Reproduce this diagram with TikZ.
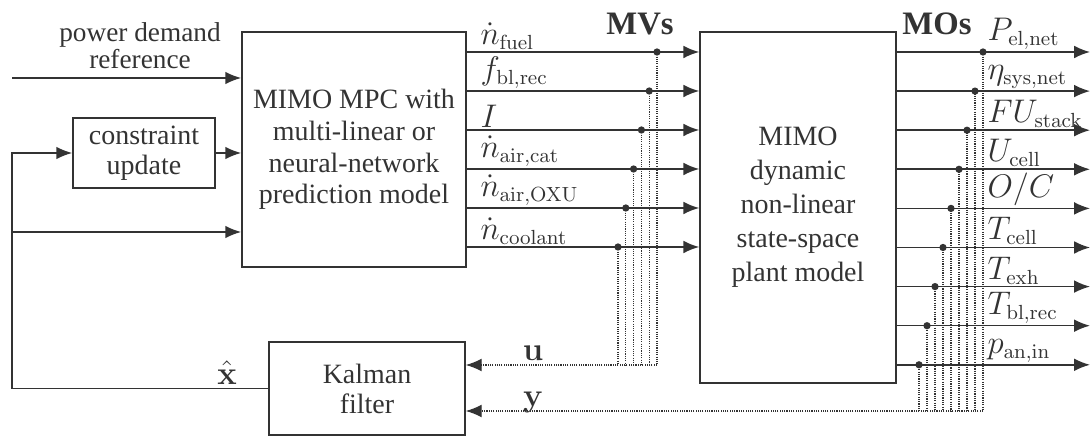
\documentclass[tikz,border=0pt]{standalone}
\usepackage[no-math]{fontspec}
\setmainfont{Liberation Serif}
\usepackage{tikz}
\usetikzlibrary{arrows.meta,positioning,calc}
\definecolor{ink}{gray}{0.2}

\tikzset{
    box/.style={draw=ink, line width=0.7pt, align=center, inner sep=0pt, text=ink},
    sig/.style={draw=ink, line width=0.7pt, -{Latex[length=7pt,width=5.6pt]}},
    tap/.style={draw=ink, line width=0.5pt, dash pattern=on 0.5pt off 0.5pt},
    bus/.style={tap, -{Latex[length=7pt,width=5.6pt]}},
    tapdot/.style={circle, fill=ink, inner sep=0pt, minimum size=3.2pt},
    lbl/.style={anchor=south west, inner sep=0.5pt, text=ink, font=\fontsize{13.5}{15}\selectfont},
    head/.style={text=ink, font=\fontsize{14.4}{16}\selectfont\bfseries}
}

\begin{document}
\begin{tikzpicture}[x=0.44pt, y=-0.44pt]
    \useasboundingbox (0,0) rectangle (1090,436);

    % Blocks
    \node[box, minimum width=98.6pt, minimum height=103.4pt, font=\fontsize{12.3}{14}\selectfont]
        (mpc) at (354,149.5) {MIMO MPC with\\multi-linear or\\neural-network\\prediction model};
    \node[box, minimum width=86.2pt, minimum height=154.4pt, font=\fontsize{12.3}{15}\selectfont]
        (plant) at (798,207.5) {MIMO\\dynamic\\non-linear\\state-space\\plant model};
    \node[box, minimum width=62.5pt, minimum height=30.8pt, font=\fontsize{12.3}{13.2}\selectfont]
        (cons) at (144,153) {constraint\\update};
    \node[box, minimum width=86.2pt, minimum height=40.9pt, font=\fontsize{12.3}{13.2}\selectfont]
        (kal) at (367,388.5) {Kalman\\filter};

    % Reference input
    \coordinate (ref) at (12,78);
    \node[align=center, text=ink, font=\fontsize{12}{11}\selectfont] (reftxt) at (140,46) {power demand\\reference};
    \draw[sig] (ref) -- (ref -| mpc.west);

    % State estimate feedback
    \coordinate (fb) at (12,0);
    \coordinate (xin) at (12,232);
    \draw[sig] (kal.west) -- (kal.west -| fb) -- (cons.west -| fb) -- (cons.west);
    \draw[sig] (xin) -- (xin -| mpc.west);
    \draw[sig] (cons.east) -- (cons.east -| mpc.west);
    \node[above, inner sep=1pt, text=ink, font=\fontsize{13.5}{15}\selectfont] (xhat) at (227,387) {$\hat{\mathbf{x}}$};

    % Buses to the Kalman filter
    \coordinate (ubus) at (0,365);
    \coordinate (ybus) at (0,411);

    % Manipulated variables
    \foreach \i/\lab in {0/{\dot{n}_{\mathrm{fuel}}}, 1/{f_{\mathrm{bl,rec}}}, 2/{I},
                         3/{\dot{n}_{\mathrm{air,cat}}}, 4/{\dot{n}_{\mathrm{air,OXU}}}, 5/{\dot{n}_{\mathrm{coolant}}}} {
        \coordinate (mv\i) at (0,{52+39*\i});
        \draw[sig] (mv\i -| mpc.east) -- (mv\i -| plant.west);
        \node[lbl] (mvl\i) at (479,{51+39*\i}) {$\lab$};
        \coordinate (mvd\i) at ({657-7.8*\i},{52+39*\i});
        \draw[tap] (mvd\i) -- (mvd\i |- ubus);
        \node[tapdot] (mvp\i) at (mvd\i) {};
    }
    \draw[bus] (mvd0 |- ubus) -- (ubus -| kal.east);
    \node[anchor=base, inner sep=1pt, text=ink, font=\fontsize{13.5}{15}\selectfont] (ulab) at (533,361) {$\mathbf{u}$};
    \node[head] (mvs) at (640,24) {MVs};

    % Measured outputs
    \foreach \i/\lab in {0/{P_{\mathrm{el,net}}}, 1/{\eta_{\mathrm{sys,net}}}, 2/{FU_{\mathrm{stack}}},
                         3/{U_{\mathrm{cell}}}, 4/{O/C}, 5/{T_{\mathrm{cell}}},
                         6/{T_{\mathrm{exh}}}, 7/{T_{\mathrm{bl,rec}}}, 8/{p_{\mathrm{an,in}}}} {
        \coordinate (mo\i) at (1090,{52+39.1*\i});
        \draw[sig] (mo\i -| plant.east) -- (mo\i);
        \node[lbl] (mol\i) at (986,{51+39.1*\i}) {$\lab$};
        \coordinate (mod\i) at ({983-8*\i},{52+39.1*\i});
        \draw[tap] (mod\i) -- (mod\i |- ybus);
        \node[tapdot] (mop\i) at (mod\i) {};
    }
    \draw[bus] (mod0 |- ybus) -- (ybus -| kal.east);
    \node[anchor=base, inner sep=1pt, text=ink, font=\fontsize{13.5}{15}\selectfont] (ylab) at (533,407) {$\mathbf{y}$};
    \node[head] (mos) at (937,24) {MOs};
\end{tikzpicture}
\end{document}
